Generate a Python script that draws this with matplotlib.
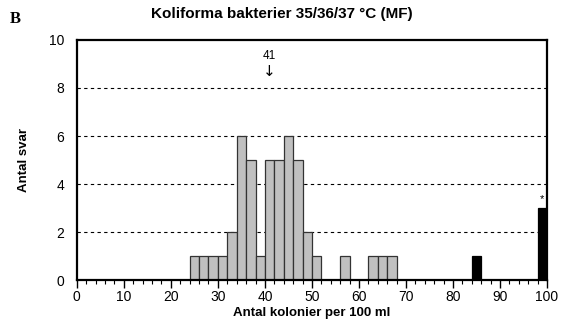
import matplotlib.pyplot as plt
from matplotlib.ticker import MultipleLocator

# Histogram bins (lower edge, width 2) and number of answers per bin
gray_edges = [24, 26, 28, 30, 32, 34, 36, 38, 40, 42, 44, 46, 48, 50, 56, 62, 64, 66]
gray_counts = [1, 1, 1, 1, 2, 6, 5, 1, 5, 5, 6, 5, 2, 1, 1, 1, 1, 1]
black_edges = [84, 98]
black_counts = [1, 3]
bin_width = 2
median_value = 41

plt.rcParams["font.family"] = ["Liberation Sans", "DejaVu Sans"]

fig = plt.figure(figsize=(5.61, 3.22), dpi=100)
ax = fig.add_axes([0.137, 0.130, 0.838, 0.746])

for y in [2, 4, 6, 8]:
    ax.axhline(y, color="black", linestyle=(0, (3, 3)), linewidth=0.8, zorder=0)

ax.bar(gray_edges, gray_counts, width=bin_width, align="edge",
       color="#c0c0c0", edgecolor="#333333", linewidth=0.9, zorder=2)
ax.bar(black_edges, black_counts, width=bin_width, align="edge",
       color="black", edgecolor="black", linewidth=0.9, zorder=2)

ax.text(99, black_counts[1] + 0.15, "*", ha="center", va="bottom", fontsize=8)
ax.text(median_value, 9.33, f"{median_value}", ha="center", va="center", fontsize=8.5)
ax.text(median_value, 8.68, "\u2193", ha="center", va="center", fontsize=11,
        family="DejaVu Sans")

ax.set_xlim(0, 100)
ax.set_ylim(0, 10)
ax.xaxis.set_major_locator(MultipleLocator(10))
ax.xaxis.set_minor_locator(MultipleLocator(2))
ax.yaxis.set_major_locator(MultipleLocator(2))
ax.tick_params(axis="x", which="major", length=6, width=1.0, direction="out", labelsize=10, pad=1)
ax.tick_params(axis="x", which="minor", length=3, width=0.8, direction="out")
ax.tick_params(axis="y", length=0, labelsize=10, pad=9)

for spine in ax.spines.values():
    spine.set_linewidth(1.6)

ax.set_xlabel("Antal kolonier per 100 ml", fontsize=9.5, fontweight="bold", labelpad=2)
ax.set_ylabel("Antal svar", fontsize=9.5, fontweight="bold", labelpad=14)
fig.text(0.502, 0.955, "Koliforma bakterier 35/36/37 \u00b0C (MF)", ha="center", va="center",
         fontsize=11, fontweight="bold")
fig.text(0.018, 0.94, "B", fontsize=12, fontweight="bold", family="Liberation Serif",
         va="center")

fig.savefig("out.png", dpi=100)
